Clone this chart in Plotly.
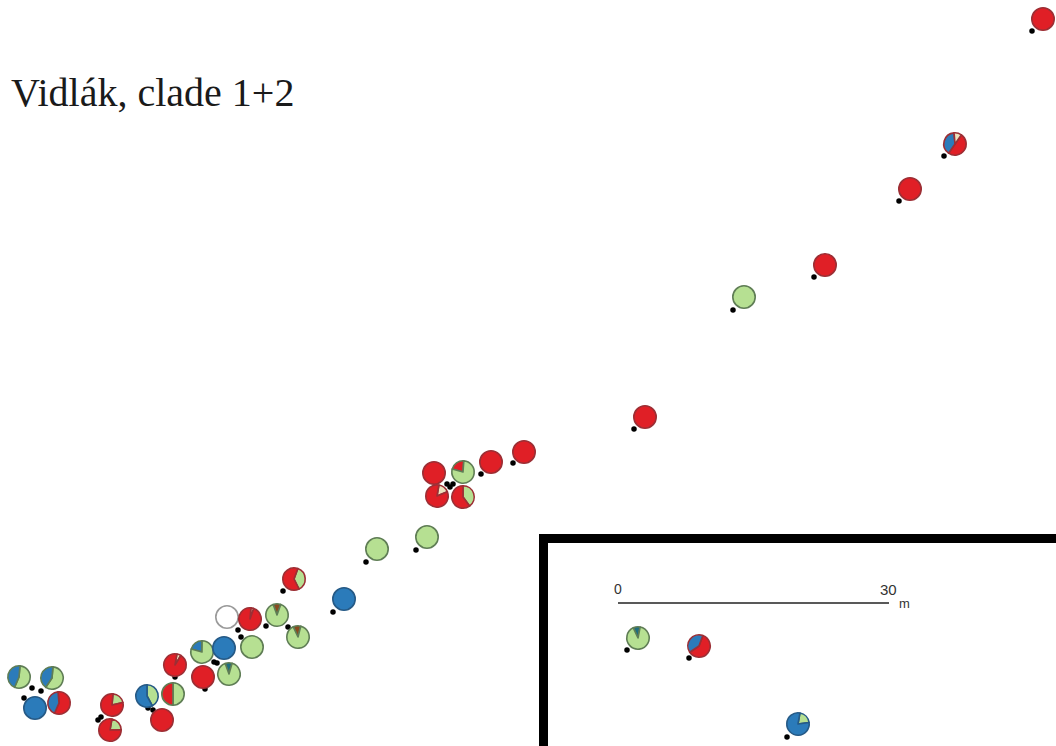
import plotly.graph_objects as go

W, H = 1056, 746
RADIUS = 11.2

title_text = "Vidlák, clade 1+2"

RED = "#E01F26"
GREEN = "#B6E092"
BLUE = "#2B7BBA"
BROWN = "#8A4B20"
TEAL = "#1F6E80"
CREAM = "#EBE3BE"
WHITE = "#FFFFFF"

# sample sites: pixel-read map position
site_x = [19, 52, 35, 59, 112, 110, 147, 173, 162, 175, 202, 224, 203, 229, 252, 227, 250, 277, 298, 294,
          344, 377, 427, 434, 463, 491, 524, 437, 463, 645, 744, 825, 910, 955, 1043, 638, 699, 798]
site_y = [677, 678, 708, 703, 705, 730, 696, 694, 720, 665, 652, 648, 677, 674, 647, 617, 619, 615, 637, 579,
          599, 549, 537, 473, 472, 462, 452, 496, 497, 417, 297, 265, 189, 144, 19, 638, 646, 724]

# rotation of the first slice (degrees clockwise from top)
site_start = [5, 5, 0, -5, 5, 10, 0, 0, 0, 10, 285, 0, 0, 340, 0, 0, 5, 340, 335, 20,
              0, 0, 0, 0, 285, 0, 0, 10, 0, 0, 0, 0, 0, 35, 0, 335, 20, 10]

# slice shares, clockwise from the start angle
site_values = [
    [55, 45], [58, 42], [1], [58, 42], [20, 80], [22, 78], [42, 58], [50, 50], [1], [6, 94],
    [21, 79], [1], [1], [10, 90], [1], [1], [4, 96], [11, 89], [11, 89], [37, 63],
    [1], [1], [1], [1], [22, 78], [1], [1], [16, 84], [40, 60], [1], [1], [1], [1], [50, 39, 11], [1],
    [10, 90], [60, 40], [20, 80],
]
site_colors = [
    [GREEN, BLUE], [GREEN, BLUE], [BLUE], [RED, BLUE], [GREEN, RED], [GREEN, RED], [GREEN, BLUE], [GREEN, RED], [RED], [CREAM, RED],
    [BLUE, GREEN], [BLUE], [RED], [TEAL, GREEN], [GREEN], [WHITE], [CREAM, RED], [BROWN, GREEN], [BROWN, GREEN], [GREEN, RED],
    [BLUE], [GREEN], [GREEN], [RED], [RED, GREEN], [RED], [RED], [CREAM, RED], [GREEN, RED], [RED], [GREEN], [RED], [RED], [RED, BLUE, CREAM], [RED],
    [TEAL, GREEN], [RED, BLUE], [GREEN, BLUE],
]
site_border = {RED: "#9C2F35", GREEN: "#5F7D55", BLUE: "#265A86", WHITE: "#9A9A9A"}

# black collection points
dot_x = [32, 41, 24, 98, 101, 148, 153, 175, 238, 241, 266, 288, 283, 333, 214, 217, 205,
         366, 416, 447, 453, 450, 481, 513, 634, 733, 814, 899, 944, 1032, 627, 689, 787]
dot_y = [688, 691, 698, 720, 717, 708, 710, 677, 630, 637, 626, 627, 591, 612, 662, 663, 689,
         562, 550, 484, 484, 487, 474, 463, 429, 310, 277, 201, 156, 31, 650, 658, 737]

fig = go.Figure()
fig.add_trace(go.Scatter(
    x=dot_x, y=dot_y, mode="markers",
    marker=dict(color="#000000", size=5.5), hoverinfo="skip", showlegend=False,
))

for x, y, start, vals, cols in zip(site_x, site_y, site_start, site_values, site_colors):
    main = cols[vals.index(max(vals))]
    fig.add_trace(go.Pie(
        values=vals, sort=False, direction="clockwise", rotation=start,
        marker=dict(colors=cols, line=dict(color=site_border.get(main, "#555555"), width=1.6)),
        domain=dict(x=[(x - RADIUS) / W, (x + RADIUS) / W],
                    y=[1 - (y + RADIUS) / H, 1 - (y - RADIUS) / H]),
        textinfo="none", hoverinfo="skip", showlegend=False,
    ))

fig.update_layout(
    width=W, height=H, margin=dict(l=0, r=0, t=0, b=0),
    paper_bgcolor="white", plot_bgcolor="white",
    xaxis=dict(range=[0, W], visible=False, fixedrange=True),
    yaxis=dict(range=[H, 0], visible=False, fixedrange=True),
    shapes=[
        dict(type="rect", x0=539, x1=1056, y0=534, y1=543, fillcolor="black", line_width=0),
        dict(type="rect", x0=539, x1=548, y0=534, y1=746, fillcolor="black", line_width=0),
        dict(type="line", x0=618, x1=889, y0=603, y1=603, line=dict(color="#222222", width=1.4)),
    ],
    annotations=[
        dict(x=9, y=92, text=title_text, showarrow=False, xanchor="left", yanchor="middle",
             font=dict(family="Liberation Serif", size=40, color="#1a1a1a")),
        dict(x=618, y=589, text="0", showarrow=False, font=dict(family="Liberation Sans", size=14, color="#333333")),
        dict(x=888, y=589, text="30", showarrow=False, font=dict(family="Liberation Sans", size=15, color="#333333")),
        dict(x=904, y=603, text="m", showarrow=False, font=dict(family="Liberation Sans", size=13, color="#333333")),
    ],
)

fig.write_html("out.html", config={"displayModeBar": False},
               post_script="document.body.style.margin='0';")
